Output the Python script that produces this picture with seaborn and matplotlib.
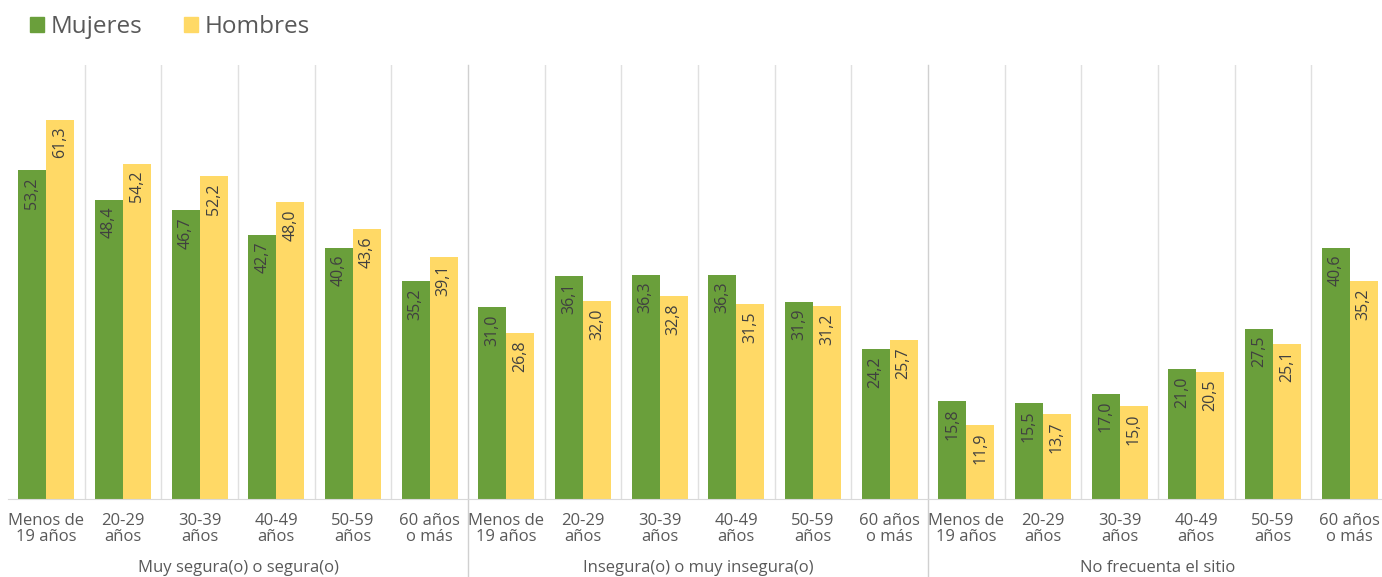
import pandas as pd
import matplotlib.pyplot as plt
import seaborn as sns
from matplotlib.patches import Patch

# Data
grupos = ["Muy segura(o) o segura(o)", "Insegura(o) o muy insegura(o)", "No frecuenta el sitio"]
edades = ["Menos de\n19 años", "20-29\naños", "30-39\naños", "40-49\naños", "50-59\naños", "60 años\no más"]
mujeres = [53.2, 48.4, 46.7, 42.7, 40.6, 35.2,
           31.0, 36.1, 36.3, 36.3, 31.9, 24.2,
           15.8, 15.5, 17.0, 21.0, 27.5, 40.6]
hombres = [61.3, 54.2, 52.2, 48.0, 43.6, 39.1,
           26.8, 32.0, 32.8, 31.5, 31.2, 25.7,
           11.9, 13.7, 15.0, 20.5, 25.1, 35.2]

colores = {"Mujeres": "#6a9f3b", "Hombres": "#ffd966"}
gris = "#595959"

# Long table for seaborn
claves = [f"{g}|{e}" for g in grupos for e in edades]
df = pd.DataFrame({
    "clave": claves * 2,
    "valor": mujeres + hombres,
    "sexo": ["Mujeres"] * len(claves) + ["Hombres"] * len(claves),
})

plt.rcParams["font.family"] = ["Open Sans", "DejaVu Sans"]
fig = plt.figure(figsize=(13.82, 5.77), dpi=100)
W, H = 1382, 577
ax = fig.add_axes([8 / W, 78 / H, 1380 / W, 434 / H])

sns.barplot(data=df, x="clave", y="valor", hue="sexo", order=claves,
            hue_order=["Mujeres", "Hombres"], palette=colores,
            width=0.73, gap=0, ax=ax, legend=False, saturation=1)

ax.set_ylim(0, 70.2)
ax.set_xlim(-0.5, len(claves) - 0.5)
ax.set_yticks([])
ax.set_xlabel("")
ax.set_ylabel("")
for s in ["top", "right", "left"]:
    ax.spines[s].set_visible(False)
ax.spines["bottom"].set_color("#d9d9d9")
ax.tick_params(axis="x", length=0, pad=10)
ax.set_xticks(range(len(claves)))
ax.set_xticklabels(edades * 3, fontsize=12, color=gris, linespacing=1.05)

# Separators between categories
for i in range(1, len(claves)):
    if i % 6 == 0:
        ax.plot([i - 0.5, i - 0.5], [0, 1], transform=ax.get_xaxis_transform(),
                color="#d0d0d0", lw=1, clip_on=False, zorder=0)
        ax.plot([i - 0.5, i - 0.5], [-0.18, 0], transform=ax.get_xaxis_transform(),
                color="#d0d0d0", lw=1, clip_on=False, zorder=0)
    else:
        ax.axvline(i - 0.5, color="#e0e0e0", lw=1, zorder=0)

# Value labels inside bars
for cont in ax.containers:
    for bar in cont:
        h = bar.get_height()
        ax.annotate(f"{h:.1f}".replace(".", ","),
                    (bar.get_x() + bar.get_width() / 2, h),
                    xytext=(0, -5), textcoords="offset points",
                    rotation=90, ha="center", va="top", fontsize=11.5, color="#404040")

# Group labels
for k, g in enumerate(grupos):
    ax.text(k * 6 + 2.5, -0.158, g, transform=ax.get_xaxis_transform(),
            ha="center", va="center", fontsize=12, color=gris)

# Legend
handles = [Patch(color=colores["Mujeres"], label="Mujeres"),
           Patch(color=colores["Hombres"], label="Hombres")]
fig.legend(handles=handles, loc="upper left", bbox_to_anchor=(8 / W, 1.012),
           ncol=2, frameon=False, fontsize=17.5, handlelength=0.6, handleheight=0.6,
           handletextpad=0.25, columnspacing=1.7, labelcolor=gris)

fig.savefig("out.png", dpi=100)
